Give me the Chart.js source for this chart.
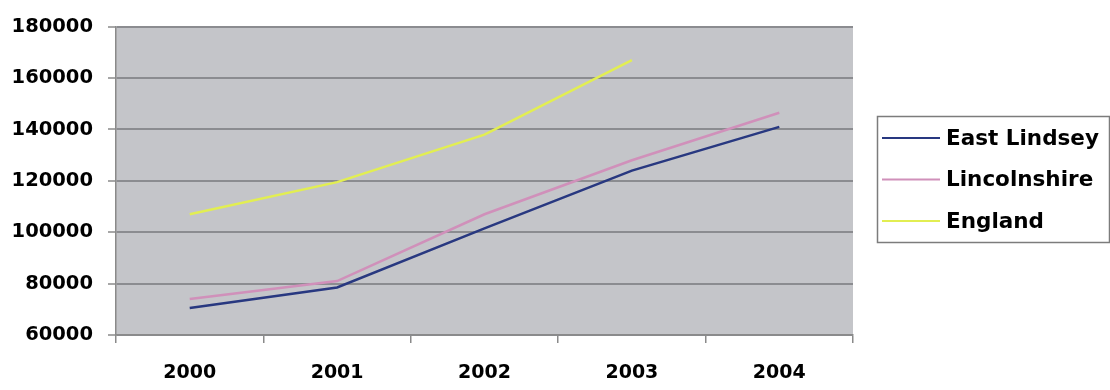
<!DOCTYPE html>
<html>
<head>
<meta charset="utf-8">
<script src="https://cdn.jsdelivr.net/npm/chart.js@4.4.1/dist/chart.umd.min.js"></script>
<style>
  html, body { margin: 0; padding: 0; background: #ffffff; }
  #wrap { width: 1110px; height: 390px; position: relative; }
</style>
</head>
<body>
<div id="wrap"><canvas id="c" width="1110" height="390"></canvas></div>
<script>
// Years on the category axis
const years = ['2000', '2001', '2002', '2003', '2004'];

// Series values
const eastLindsey  = [70500, 78500, 101500, 124000, 141000];
const lincolnshire = [74000, 81000, 107000, 128000, 146500];
const england      = [107000, 119500, 138000, 167000, null];

// Value axis range
const yMin = 60000, yMax = 180000, yStep = 20000;

const seriesNames  = ['East Lindsey', 'Lincolnshire', 'England'];
const seriesColors = ['#283880', '#d090ba', '#e2ee52'];

const FONT = '"DejaVu Sans", sans-serif';

// Grey plot background
const plotBackground = {
  id: 'plotBackground',
  beforeDraw(chart) {
    const { ctx, chartArea: a } = chart;
    ctx.save();
    ctx.fillStyle = '#c4c5c9';
    ctx.fillRect(a.left, a.top, a.right - a.left, a.bottom - a.top);
    ctx.restore();
  }
};

// Boxed legend to the right of the plot
const boxedLegend = {
  id: 'boxedLegend',
  afterDraw(chart) {
    const { ctx } = chart;
    const x0 = 877, y0 = 116, w = 232, h = 126;
    ctx.save();
    ctx.strokeStyle = '#7c7c7c';
    ctx.lineWidth = 1.5;
    ctx.strokeRect(x0 + 0.5, y0 + 0.5, w, h);
    ctx.font = 'bold 21.5px ' + FONT;
    ctx.textBaseline = 'middle';
    ctx.textAlign = 'left';
    chart.data.datasets.forEach((ds, i) => {
      const y = 138 + i * 41.5;
      ctx.strokeStyle = ds.borderColor;
      ctx.lineWidth = 2;
      ctx.beginPath();
      ctx.moveTo(882, y);
      ctx.lineTo(940, y);
      ctx.stroke();
      ctx.fillStyle = '#000000';
      ctx.fillText(ds.label, 946, y + 1);
    });
    ctx.restore();
  }
};

const datasets = [eastLindsey, lincolnshire, england].map((vals, i) => ({
  label: seriesNames[i],
  data: vals,
  borderColor: seriesColors[i],
  backgroundColor: seriesColors[i],
  borderWidth: 2.5,
  pointRadius: 0,
  tension: 0,
  spanGaps: false
}));

new Chart(document.getElementById('c'), {
  type: 'line',
  data: { labels: years, datasets },
  options: {
    responsive: false,
    animation: false,
    devicePixelRatio: 1,
    layout: { padding: { top: 24, right: 257, left: 0, bottom: 0 } },
    plugins: {
      legend: { display: false },
      tooltip: { enabled: false }
    },
    scales: {
      x: {
        offset: true,
        grid: {
          offset: true,
          drawOnChartArea: false,
          drawTicks: true,
          tickLength: 8,
          color: '#8a8a8a',
          lineWidth: 1.5
        },
        border: { color: '#8a8a8a', width: 1.5 },
        ticks: {
          color: '#000000',
          font: { family: FONT, size: 19, weight: 'bold' },
          padding: 19,
          maxRotation: 0
        },
        afterFit(s) { s.height = 55; }
      },
      y: {
        min: yMin,
        max: yMax,
        grid: {
          color: '#8b8c90',
          lineWidth: 2,
          tickLength: 8,
          tickColor: '#8a8a8a',
          tickWidth: 1.5
        },
        border: { color: '#8a8a8a', width: 1.5 },
        ticks: {
          stepSize: yStep,
          color: '#000000',
          font: { family: FONT, size: 19.5, weight: 'bold' },
          padding: 15,
          callback: v => String(v)
        },
        afterFit(s) { s.width = 116; }
      }
    }
  },
  plugins: [plotBackground, boxedLegend]
});
</script>
</body>
</html>
